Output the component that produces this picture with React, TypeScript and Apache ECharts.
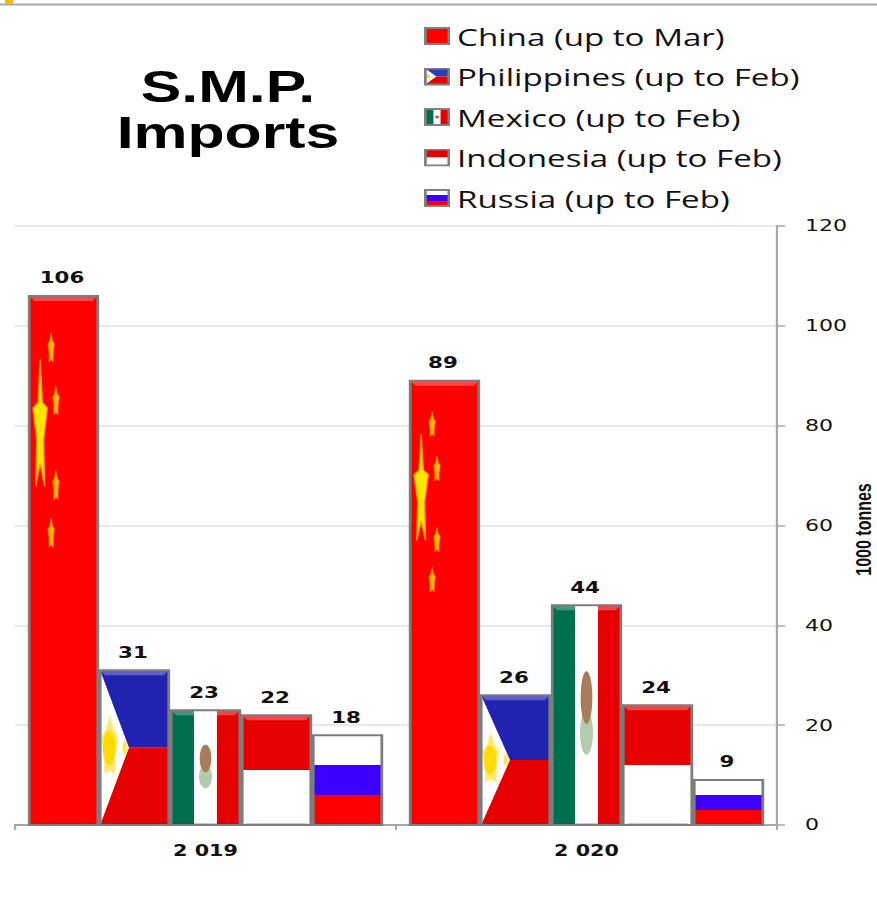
import React, { useEffect, useRef } from "react";
import * as echarts from "echarts";

const categories = ["2 019", "2 020"];
const china = [106, 89];
const philippines = [31, 26];
const mexico = [23, 44];
const indonesia = [22, 24];
const russia = [18, 9];
const seriesNames = [
  "China (up to Mar)",
  "Philippines (up to Feb)",
  "Mexico (up to Feb)",
  "Indonesia (up to Feb)",
  "Russia (up to Feb)",
];
const yTicks = { min: 0, max: 120, interval: 20 };

// The reference is a horizontally stretched picture, so the whole chart is stretched the same way.
const S = 1.38;
const W = 877 / S;
const H = 916;
const sx = (v: number) => v / S;

const RED = "#e60000";
const PURE_RED = "#ff0000";
const BLUE = "#2222b0";
const GREEN = "#006f4e";
const RU_BLUE = "#3c00ff";

function star(cx: number, cy: number, rx: number, ry: number, inner = 0.382) {
  const pts: number[][] = [];
  for (let i = 0; i < 10; i++) {
    const a = -Math.PI / 2 + (i * Math.PI) / 5;
    const r = i % 2 === 0 ? 1 : inner;
    pts.push([cx + Math.cos(a) * rx * r, cy + Math.sin(a) * ry * r]);
  }
  return pts;
}
const rect = (x: number, y: number, w: number, h: number, fill: string) => ({
  type: "rect",
  shape: { x, y, width: w, height: h },
  style: { fill },
});
const poly = (points: number[][], fill: string, stroke?: string, lineWidth = 0) => ({
  type: "polygon",
  shape: { points },
  style: { fill, stroke, lineWidth },
});

type Box = { x: number; y: number; w: number; h: number };
const flags: Record<string, (b: Box) => any[]> = {
  china: ({ x, y, w, h }) => {
    const out: any[] = [rect(x, y, w, h, PURE_RED)];
    const ry = (h * 0.24) / 1.81;
    out.push(poly(star(x + w * 0.16, y + h * 0.12 + ry, w * 0.11, ry, 0.48), "#ffe600", "#ff9a00", 1));
    [[0.32, 0.07], [0.39, 0.17], [0.39, 0.33], [0.32, 0.42]].forEach(([fx, fy]) => {
      const r = (h * 0.055) / 1.81;
      out.push(poly(star(x + w * fx, y + h * fy + r, w * 0.05, r, 0.65), "#ffb400", "#ff8c00", 0.6));
    });
    return out;
  },
  philippines: ({ x, y, w, h }) => {
    const apex = x + w * 0.42;
    const mid = y + h / 2;
    const r = h * 0.21;
    return [
      rect(x, y, w, h / 2, BLUE),
      rect(x, mid, w, h / 2, RED),
      poly([[x, y], [apex, mid], [x, y + h]], "#ffffff"),
      poly(star(x + w * 0.14, mid, w * 0.13, r, 0.7), "#ffe96a", "#fff0a0", 0.6),
      { type: "ellipse", shape: { cx: x + w * 0.13, cy: mid, rx: w * 0.09, ry: h * 0.11 }, style: { fill: "#ffdc00" } },
      { type: "ellipse", shape: { cx: x + w * 0.36, cy: mid, rx: w * 0.035, ry: h * 0.045 }, style: { fill: "#ffe766" } },
    ];
  },
  mexico: ({ x, y, w, h }) => {
    const cx = x + w / 2;
    const cy = y + h * 0.49;
    return [
      rect(x, y, w / 3, h, GREEN),
      rect(x + w / 3, y, w / 3, h, "#ffffff"),
      rect(x + (2 * w) / 3, y, w / 3, h, RED),
      { type: "ellipse", shape: { cx, cy: cy + h * 0.09, rx: w * 0.095, ry: h * 0.1 }, style: { fill: "#b5cbb0" } },
      { type: "ellipse", shape: { cx, cy: cy - h * 0.07, rx: w * 0.085, ry: h * 0.12 }, style: { fill: "#a87c58" } },
    ];
  },
  indonesia: ({ x, y, w, h }) => [rect(x, y, w, h / 2, RED), rect(x, y + h / 2, w, h / 2, "#ffffff")],
  russia: ({ x, y, w, h }) => [
    rect(x, y, w, h / 3, "#ffffff"),
    rect(x, y + h / 3, w, h / 3, RU_BLUE),
    rect(x, y + (2 * h) / 3, w, h / 3, PURE_RED),
  ],
};

const PITCH = 0.1864;
const BAR = 0.18;

function renderer(kind: string, order: number) {
  return (_p: any, api: any) => {
    const idx = api.value(0);
    const val = api.value(1);
    const band = api.size([1, 0])[0];
    const [cx, top] = api.coord([idx, val]);
    const [, base] = api.coord([idx, 0]);
    const w = band * BAR;
    const x = cx + (order - 2) * band * PITCH - w / 2;
    const box = { x, y: top, w, h: base - top };
    const inset = sx(5);
    const topBand = kind === "russia" ? 0 : 5;
    const children: any[] = [
      ...flags[kind](box),
      // bevel on top of the flag
      poly(
        [[x, top], [x + w, top], [x + w - inset, top + topBand], [x + inset, top + topBand]],
        "rgba(255,255,255,0.28)"
      ),
      poly(
        [[x, base], [x + w, base], [x + w - inset, base - 2], [x + inset, base - 2]],
        "rgba(120,0,60,0.25)"
      ),
      {
        type: "rect",
        shape: { x, y: top, width: w, height: base - top },
        style: { fill: "none", stroke: "#7d7d7d", lineWidth: 2 },
      },
      {
        type: "text",
        style: {
          text: String(val),
          x: x + w / 2 - sx(1.5),
          y: top - 18,
          align: "center",
          verticalAlign: "middle",
          fontFamily: "DejaVu Sans",
          fontWeight: "bold",
          fontSize: 15.5,
          fill: "#111111",
        },
      },
    ];
    return { type: "group", children };
  };
}

function icon(body: string) {
  const svg = `<svg xmlns="http://www.w3.org/2000/svg" width="19" height="18" viewBox="0 0 19 18" preserveAspectRatio="none">${body}<rect x="1" y="1" width="17" height="16" fill="none" stroke="#808080" stroke-width="2"/></svg>`;
  return "image://data:image/svg+xml;charset=utf-8," + encodeURIComponent(svg);
}
const icons = [
  icon(`<rect width="19" height="18" fill="#f00"/>`),
  icon(`<rect width="19" height="9" fill="#2a3cc0"/><rect y="9" width="19" height="9" fill="#e60000"/><polygon points="0,0 9,9 0,18" fill="#fff"/><circle cx="3" cy="9" r="1.5" fill="#ffd800"/>`),
  icon(`<rect width="7" height="18" fill="#006f4e"/><rect x="7" width="5" height="18" fill="#fff"/><rect x="12" width="7" height="18" fill="#e60000"/><circle cx="9.5" cy="9" r="1.6" fill="#a0714a"/>`),
  icon(`<rect width="19" height="9" fill="#e60000"/><rect y="9" width="19" height="9" fill="#fff"/>`),
  icon(`<rect width="19" height="6" fill="#fff"/><rect y="6" width="19" height="6" fill="#3c00ff"/><rect y="12" width="19" height="6" fill="#f00"/>`),
];

const seriesData = [china, philippines, mexico, indonesia, russia];
const kinds = ["china", "philippines", "mexico", "indonesia", "russia"];
const seriesColors = [PURE_RED, BLUE, GREEN, RED, RU_BLUE];

export default function App() {
  const ref = useRef<HTMLDivElement>(null);
  useEffect(() => {
    if (!ref.current) return;
    const chart = echarts.init(ref.current, undefined, { renderer: "svg" });
    chart.setOption({
      animation: false,
      backgroundColor: "#ffffff",
      title: {
        text: "S.M.P.\nImports",
        left: sx(228),
        top: 64,
        padding: 0,
        textAlign: "center",
        textStyle: {
          fontFamily: "Liberation Sans",
          fontWeight: "bold",
          fontSize: 44,
          lineHeight: 46,
          color: "#000000",
        },
      },
      legend: {
        orient: "vertical",
        left: sx(424),
        top: 24,
        padding: 0,
        itemWidth: 19,
        itemHeight: 18,
        itemGap: 16.5,
        selectedMode: false,
        data: seriesNames.map((name, i) => ({ name, icon: icons[i] })),
        textStyle: { fontFamily: "Open Sans", fontSize: 24, color: "#111111" },
      },
      grid: { left: sx(15), width: sx(762), top: 226, height: 599, outerBoundsMode: "none" },
      xAxis: {
        type: "category",
        data: categories,
        axisLine: { lineStyle: { color: "#a6a6a6", width: 2 } },
        axisTick: { show: true, length: 5, lineStyle: { color: "#a6a6a6", width: 1.5 } },
        axisLabel: {
          margin: 18,
          fontFamily: "DejaVu Sans",
          fontWeight: "bold",
          fontSize: 15,
          color: "#111111",
        },
      },
      yAxis: {
        type: "value",
        position: "right",
        ...yTicks,
        name: "1000 tonnes",
        nameLocation: "middle",
        nameRotate: 90,
        nameGap: sx(76),
        nameMoveOverlap: false,
        nameTextStyle: {
          fontFamily: "Liberation Sans",
          fontSize: 16,
          fontWeight: "bold",
          color: "#111111",
          padding: [0, 8, 0, 0],
        },
        axisLine: { show: true, lineStyle: { color: "#a6a6a6", width: 1.6 } },
        axisTick: { show: true, length: sx(8), lineStyle: { color: "#a6a6a6", width: 1.5 } },
        axisLabel: {
          margin: sx(28),
          fontFamily: "DejaVu Sans",
          fontSize: 16,
          color: "#111111",
        },
        splitLine: { show: true, lineStyle: { color: "#e8e8e8", width: 2 } },
      },
      graphic: [
        { type: "rect", shape: { x: 0, y: 3.5, width: W, height: 2 }, style: { fill: "#a8a8a8" }, silent: true },
        { type: "rect", shape: { x: sx(5), y: 0, width: sx(8), height: 4 }, style: { fill: "#ffb800" }, silent: true },
      ],
      series: seriesNames.map((name, i) => ({
        type: "custom",
        name,
        itemStyle: { color: seriesColors[i] },
        encode: { x: 0, y: 1 },
        data: seriesData[i].map((v, c) => [c, v]),
        renderItem: renderer(kinds[i], i),
      })),
    });
    return () => chart.dispose();
  }, []);
  return (
    <div style={{ position: "absolute", left: 0, top: 0, width: 877, height: H, overflow: "hidden", background: "#fff" }}>
      <div
        ref={ref}
        style={{ width: W, height: H, transform: `scaleX(${S})`, transformOrigin: "0 0" }}
      />
    </div>
  );
}
